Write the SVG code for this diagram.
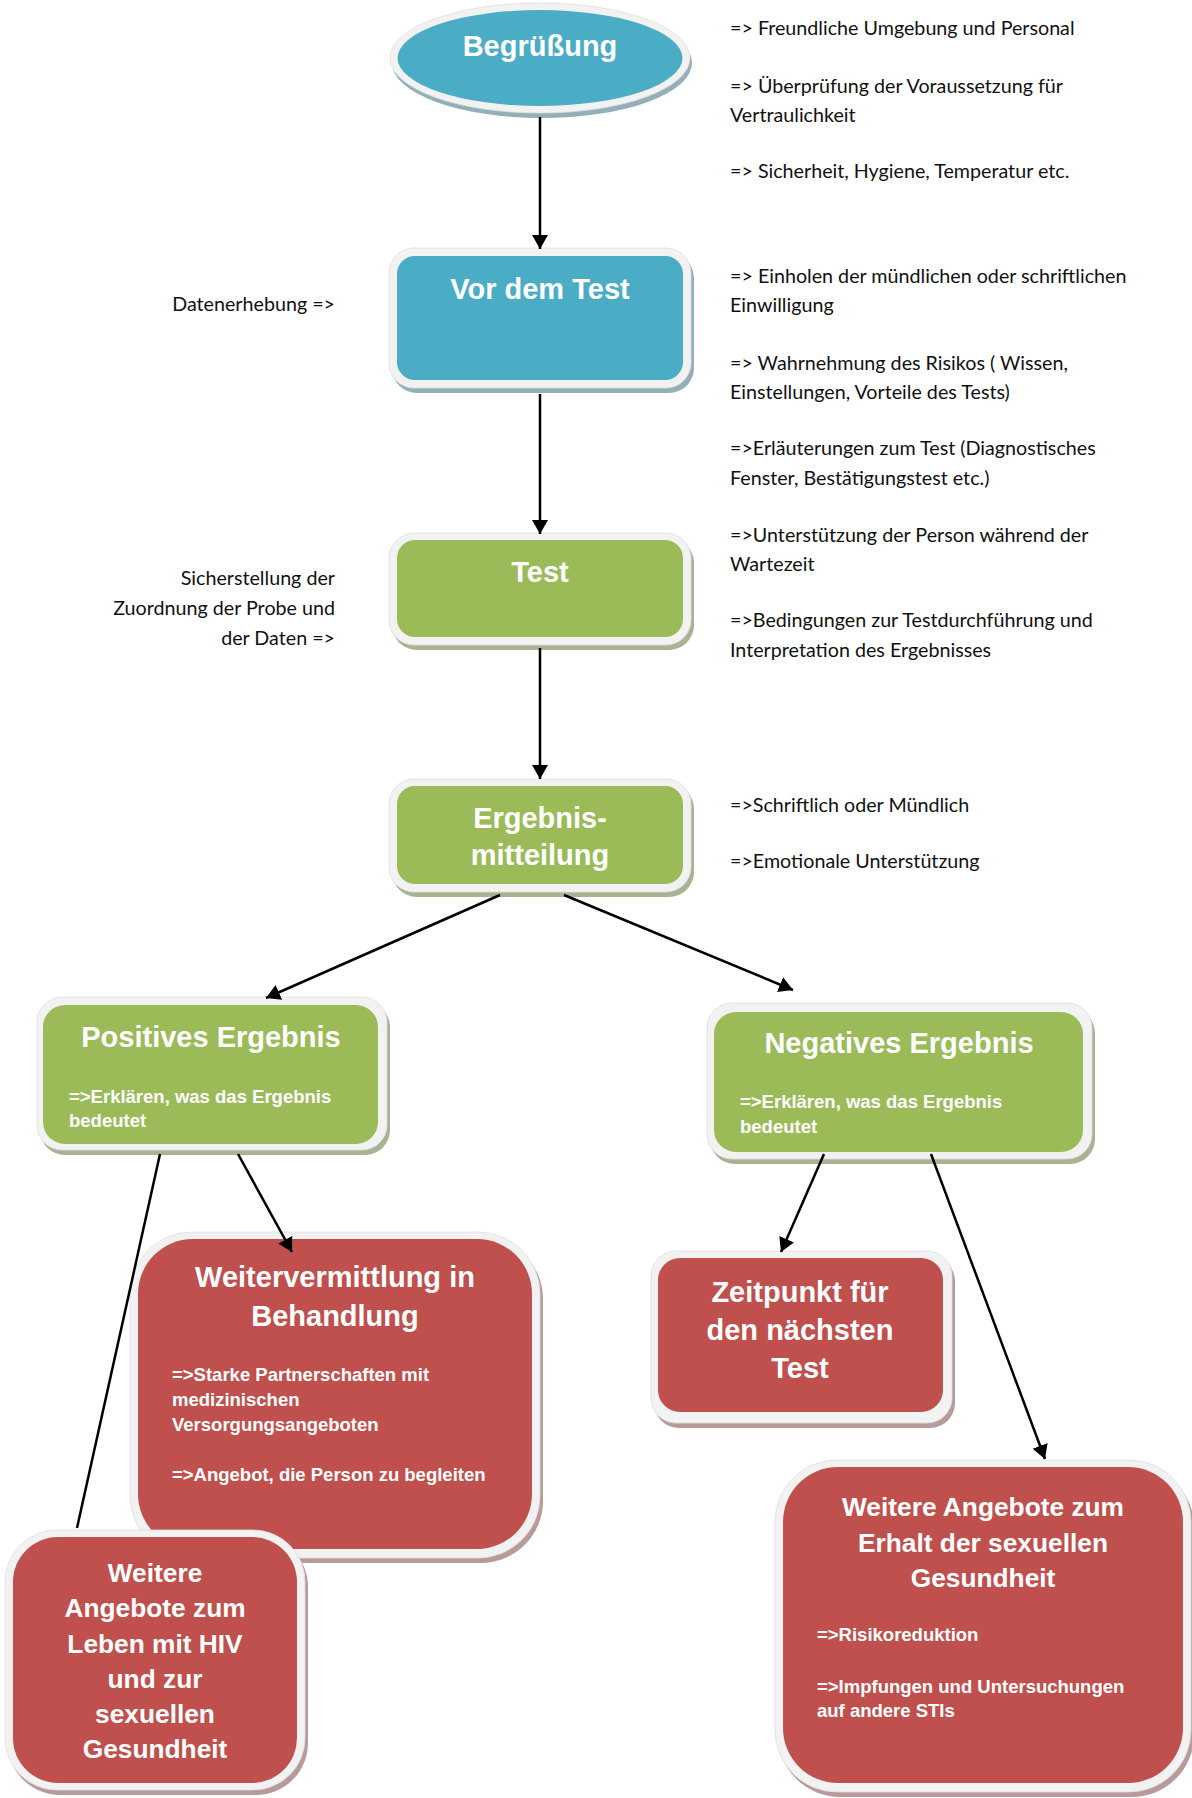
<svg xmlns="http://www.w3.org/2000/svg" width="1192" height="1798" viewBox="0 0 1192 1798">
<defs>
<style>
.title{font-family:"Liberation Sans",Arial,sans-serif;font-weight:bold;font-size:29px;fill:#fff;text-anchor:middle}
.title26{font-family:"Liberation Sans",Arial,sans-serif;font-weight:bold;font-size:26.3px;fill:#fff;text-anchor:middle}
.sub{font-family:"Liberation Sans",Arial,sans-serif;font-weight:bold;font-size:18.5px;fill:#fff}
.note{font-family:Lato,"Open Sans",sans-serif;font-size:19.7px;fill:#111}
.noteR{font-family:Lato,"Open Sans",sans-serif;font-size:19.7px;fill:#111;text-anchor:end}
.frame{fill:#f2f2f2;stroke:#dedede;stroke-width:0.8}
.blue{fill:#4bacc6}
.green{fill:#9bbb59}
.red{fill:#c0504d}
.shB{fill:#93afb9}
.shG{fill:#a8b391}
.shR{fill:#b99a9a}
.conn{stroke:#000;stroke-width:2.5;fill:none}
</style>
<marker id="arr" markerUnits="userSpaceOnUse" markerWidth="17" markerHeight="17" refX="14" refY="8" orient="auto">
<path d="M0,0 L14,8 L0,16 z" fill="#000"/>
</marker>
</defs>
<rect width="1192" height="1798" fill="#fff"/>

<g id="n-begruessung">
<ellipse class="shB" cx="542" cy="63" rx="150" ry="55"/>
<ellipse class="frame" cx="540" cy="58" rx="150" ry="55"/>
<ellipse class="blue" cx="540" cy="58" rx="142.5" ry="48"/>
<text class="title" x="540" y="56">Begrüßung</text>
</g>

<g id="n-vordemtest">
<rect class="shB" x="392" y="253" width="302" height="140" rx="25"/>
<rect class="frame" x="389" y="248" width="302" height="140" rx="25"/>
<rect class="blue" x="397" y="256" width="286" height="124" rx="18"/>
<text class="title" x="540" y="299">Vor dem Test</text>
</g>

<g id="n-test">
<rect class="shG" x="392" y="538" width="302" height="112" rx="25"/>
<rect class="frame" x="389" y="533" width="302" height="112" rx="25"/>
<rect class="green" x="397" y="540" width="286" height="97" rx="18"/>
<text class="title" x="540" y="582">Test</text>
</g>

<g id="n-ergebnis">
<rect class="shG" x="392" y="784" width="302" height="113" rx="25"/>
<rect class="frame" x="389" y="779" width="302" height="113" rx="25"/>
<rect class="green" x="397" y="786" width="286" height="98" rx="18"/>
<text class="title" x="540" y="828">Ergebnis-</text>
<text class="title" x="540" y="865">mitteilung</text>
</g>

<g id="n-positiv">
<rect class="shG" x="40" y="1002" width="350" height="153" rx="25"/>
<rect class="frame" x="37" y="997" width="350" height="153" rx="25"/>
<rect class="green" x="43" y="1005" width="335" height="139" rx="22"/>
<text class="title" x="211" y="1047">Positives Ergebnis</text>
<text class="sub" x="69" y="1103">=&gt;Erklären, was das Ergebnis</text>
<text class="sub" x="69" y="1127">bedeutet</text>
</g>

<g id="n-negativ">
<rect class="shG" x="710" y="1008" width="385" height="156" rx="25"/>
<rect class="frame" x="707" y="1003" width="385" height="156" rx="25"/>
<rect class="green" x="714" y="1012" width="369" height="140" rx="22"/>
<text class="title" x="899" y="1053">Negatives Ergebnis</text>
<text class="sub" x="740" y="1108">=&gt;Erklären, was das Ergebnis</text>
<text class="sub" x="740" y="1133">bedeutet</text>
</g>

<g id="n-weitervermittlung">
<rect class="shR" x="133" y="1237" width="410" height="326" rx="62"/>
<rect class="frame" x="130" y="1232" width="410" height="326" rx="62"/>
<rect class="red" x="138" y="1239" width="394" height="310" rx="55"/>
<text class="title" x="335" y="1287">Weitervermittlung in</text>
<text class="title" x="335" y="1326">Behandlung</text>
<text class="sub" x="172" y="1381">=&gt;Starke Partnerschaften mit</text>
<text class="sub" x="172" y="1406">medizinischen</text>
<text class="sub" x="172" y="1431">Versorgungsangeboten</text>
<text class="sub" x="172" y="1481">=&gt;Angebot, die Person zu begleiten</text>
</g>

<g id="n-zeitpunkt">
<rect class="shR" x="654" y="1256" width="301" height="172" rx="25"/>
<rect class="frame" x="651" y="1251" width="301" height="172" rx="25"/>
<rect class="red" x="658" y="1258" width="285" height="154" rx="22"/>
<text class="title" x="800" y="1302">Zeitpunkt für</text>
<text class="title" x="800" y="1340">den nächsten</text>
<text class="title" x="800" y="1378">Test</text>
</g>

<g id="n-hiv">
<rect class="shR" x="8" y="1535" width="300" height="260" rx="52"/>
<rect class="frame" x="5" y="1530" width="300" height="260" rx="52"/>
<rect class="red" x="13" y="1537" width="284" height="246" rx="45"/>
<text class="title26" x="155" y="1582">Weitere</text>
<text class="title26" x="155" y="1617">Angebote zum</text>
<text class="title26" x="155" y="1653">Leben mit HIV</text>
<text class="title26" x="155" y="1688">und zur</text>
<text class="title26" x="155" y="1723">sexuellen</text>
<text class="title26" x="155" y="1758">Gesundheit</text>
</g>

<g id="n-sexgesundheit">
<rect class="shR" x="778" y="1465" width="416" height="332" rx="62"/>
<rect class="frame" x="775" y="1460" width="416" height="332" rx="62"/>
<rect class="red" x="783" y="1467" width="400" height="316" rx="55"/>
<text class="title26" x="983" y="1516">Weitere Angebote zum</text>
<text class="title26" x="983" y="1552">Erhalt der sexuellen</text>
<text class="title26" x="983" y="1587">Gesundheit</text>
<text class="sub" x="817" y="1641">=&gt;Risikoreduktion</text>
<text class="sub" x="817" y="1693">=&gt;Impfungen und Untersuchungen</text>
<text class="sub" x="817" y="1717">auf andere STIs</text>
</g>

<g id="notes-right">
<text class="note" x="730" y="35">=&gt; Freundliche Umgebung und Personal</text>
<text class="note" x="730" y="93">=&gt; Überprüfung der Voraussetzung für</text>
<text class="note" x="730" y="122">Vertraulichkeit</text>
<text class="note" x="730" y="178">=&gt; Sicherheit, Hygiene, Temperatur etc.</text>
<text class="note" x="730" y="283">=&gt; Einholen der mündlichen oder schriftlichen</text>
<text class="note" x="730" y="312">Einwilligung</text>
<text class="note" x="730" y="370">=&gt; Wahrnehmung des Risikos ( Wissen,</text>
<text class="note" x="730" y="399">Einstellungen, Vorteile des Tests)</text>
<text class="note" x="730" y="455">=&gt;Erläuterungen zum Test (Diagnostisches</text>
<text class="note" x="730" y="485">Fenster, Bestätigungstest etc.)</text>
<text class="note" x="730" y="542">=&gt;Unterstützung der Person während der</text>
<text class="note" x="730" y="571">Wartezeit</text>
<text class="note" x="730" y="627">=&gt;Bedingungen zur Testdurchführung und</text>
<text class="note" x="730" y="657">Interpretation des Ergebnisses</text>
<text class="note" x="730" y="812">=&gt;Schriftlich oder Mündlich</text>
<text class="note" x="730" y="868">=&gt;Emotionale Unterstützung</text>
</g>

<g id="notes-left">
<text class="noteR" x="335" y="311">Datenerhebung =&gt;</text>
<text class="noteR" x="335" y="585">Sicherstellung der</text>
<text class="noteR" x="335" y="615">Zuordnung der Probe und</text>
<text class="noteR" x="335" y="645">der Daten =&gt;</text>
</g>

<g id="connectors">
<line class="conn" x1="540" y1="117" x2="540" y2="249" marker-end="url(#arr)"/>
<line class="conn" x1="540" y1="394" x2="540" y2="534" marker-end="url(#arr)"/>
<line class="conn" x1="540" y1="648" x2="540" y2="779" marker-end="url(#arr)"/>
<line class="conn" x1="500" y1="895" x2="266" y2="998" marker-end="url(#arr)"/>
<line class="conn" x1="564" y1="895" x2="793" y2="990" marker-end="url(#arr)"/>
<line class="conn" x1="238" y1="1154" x2="292" y2="1252" marker-end="url(#arr)"/>
<line class="conn" x1="160" y1="1154" x2="77" y2="1528"/>
<line class="conn" x1="824" y1="1154" x2="781" y2="1252" marker-end="url(#arr)"/>
<line class="conn" x1="931" y1="1154" x2="1045" y2="1459" marker-end="url(#arr)"/>
</g>
</svg>
